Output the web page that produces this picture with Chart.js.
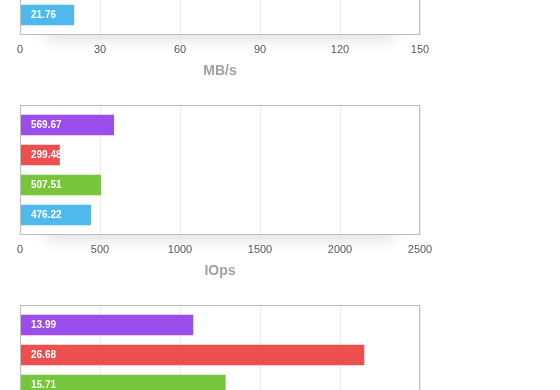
<!DOCTYPE html>
<html>
<head>
<meta charset="utf-8">
<script src="https://cdn.jsdelivr.net/npm/chart.js@4.4.1/dist/chart.umd.min.js"></script>
<style>
  body { margin: 0; background: #fff; overflow: hidden; width: 560px; height: 390px; position: relative; }
  canvas { position: absolute; left: 0; }
</style>
</head>
<body>
<canvas id="graficoMBs" width="560" height="200" style="top:-105px"></canvas>
<canvas id="graficoIOps" width="560" height="200" style="top:95px"></canvas>
<canvas id="graficoLat" width="560" height="200" style="top:295px"></canvas>
<script>
// row colours, top to bottom in each chart
const rowColors = ["#9b4deb", "#ed4f4f", "#76c53a", "#4eb9ec"];

// top chart: scrolled off above the window, only the last row shows
const mbpsBars = [null, null, null, 20.2];
const mbpsLabels = [null, null, null, "21.76"];
const mbpsTicks = [0, 30, 60, 90, 120, 150];

// middle chart
const iopsBars = [586, 247, 504, 442];
const iopsLabels = ["569.67", "299.48", "507.51", "476.22"];
const iopsTicks = [0, 500, 1000, 1500, 2000, 2500];

// bottom chart: cut by the window bottom
const latBars = [12.97, 25.8, 15.4, null];
const latLabels = ["13.99", "26.68", "15.71", null];
const latTicks = [0, 6, 12, 18, 24, 30];

const FONT = "'Liberation Sans', Arial, sans-serif";

// soft shadow under the plot box + white box + border
const boxPlugin = {
    id: "box",
    beforeDraw(chart) {
        const { ctx, chartArea: a } = chart;
        ctx.save();
        ctx.shadowColor = "rgba(0,0,0,0.12)";
        ctx.shadowBlur = 14;
        ctx.shadowOffsetY = 5;
        ctx.fillStyle = "#fff";
        ctx.fillRect(a.left + 25, a.bottom - 20, a.width - 50, 20);
        ctx.restore();
        ctx.fillStyle = "#fff";
        ctx.fillRect(a.left, a.top, a.width, a.height);
    },
    afterDraw(chart) {
        const { ctx, chartArea: a } = chart;
        ctx.save();
        ctx.strokeStyle = "#bcbcbc";
        ctx.lineWidth = 1;
        ctx.strokeRect(a.left + 0.5, a.top + 0.5, a.width - 1, a.height - 1);
        ctx.restore();
    }
};

// white value text inside each bar
const valorPlugin = {
    id: "valor",
    afterDatasetsDraw(chart) {
        const { ctx } = chart;
        const ds = chart.data.datasets[0];
        const meta = chart.getDatasetMeta(0);
        ctx.save();
        ctx.fillStyle = "#fff";
        ctx.font = "bold 10px " + FONT;
        ctx.textBaseline = "middle";
        meta.data.forEach((bar, i) => {
            const txt = ds.textos[i];
            if (!txt) return;
            ctx.fillText(txt, bar.base + 10.5, bar.y + 0.5);
        });
        ctx.restore();
    }
};

function criarGrafico(id, barras, textos, ticks, titulo) {
    const pontos = [];
    const cores = [];
    const lista = [];
    barras.forEach((v, i) => {
        if (v === null) return;
        pontos.push({ x: v, y: i });
        cores.push(rowColors[i]);
        lista.push(textos[i]);
    });

    return new Chart(document.getElementById(id).getContext("2d"), {
        type: "bar",
        data: {
            datasets: [{
                data: pontos,
                textos: lista,
                backgroundColor: cores,
                borderWidth: 0,
                barThickness: 20
            }]
        },
        options: {
            indexAxis: "y",
            responsive: false,
            animation: false,
            layout: { padding: { left: 20, right: 140, top: 10, bottom: 17 } },
            plugins: { legend: { display: false }, tooltip: { enabled: false } },
            scales: {
                y: {
                    type: "linear",
                    display: false,
                    reverse: true,
                    offset: false,
                    grace: 0,
                    min: -0.667,
                    max: 3.667
                },
                x: {
                    type: "linear",
                    min: ticks[0],
                    max: ticks[ticks.length - 1],
                    ticks: {
                        stepSize: ticks[1] - ticks[0],
                        padding: 9,
                        color: "#555",
                        font: { family: FONT, size: 11, lineHeight: 1 },
                        maxRotation: 0,
                        callback: v => String(v)
                    },
                    grid: { color: "#ebebeb", drawTicks: false },
                    border: { display: false },
                    title: {
                        display: true,
                        text: titulo,
                        color: "#a0a0a0",
                        font: { family: FONT, size: 14, weight: "bold", lineHeight: 1 },
                        padding: { top: 0, bottom: 0 }
                    }
                }
            }
        },
        plugins: [boxPlugin, valorPlugin]
    });
}

criarGrafico("graficoMBs", mbpsBars, mbpsLabels, mbpsTicks, "MB/s");
criarGrafico("graficoIOps", iopsBars, iopsLabels, iopsTicks, "IOps");
criarGrafico("graficoLat", latBars, latLabels, latTicks, "");
</script>
</body>
</html>
